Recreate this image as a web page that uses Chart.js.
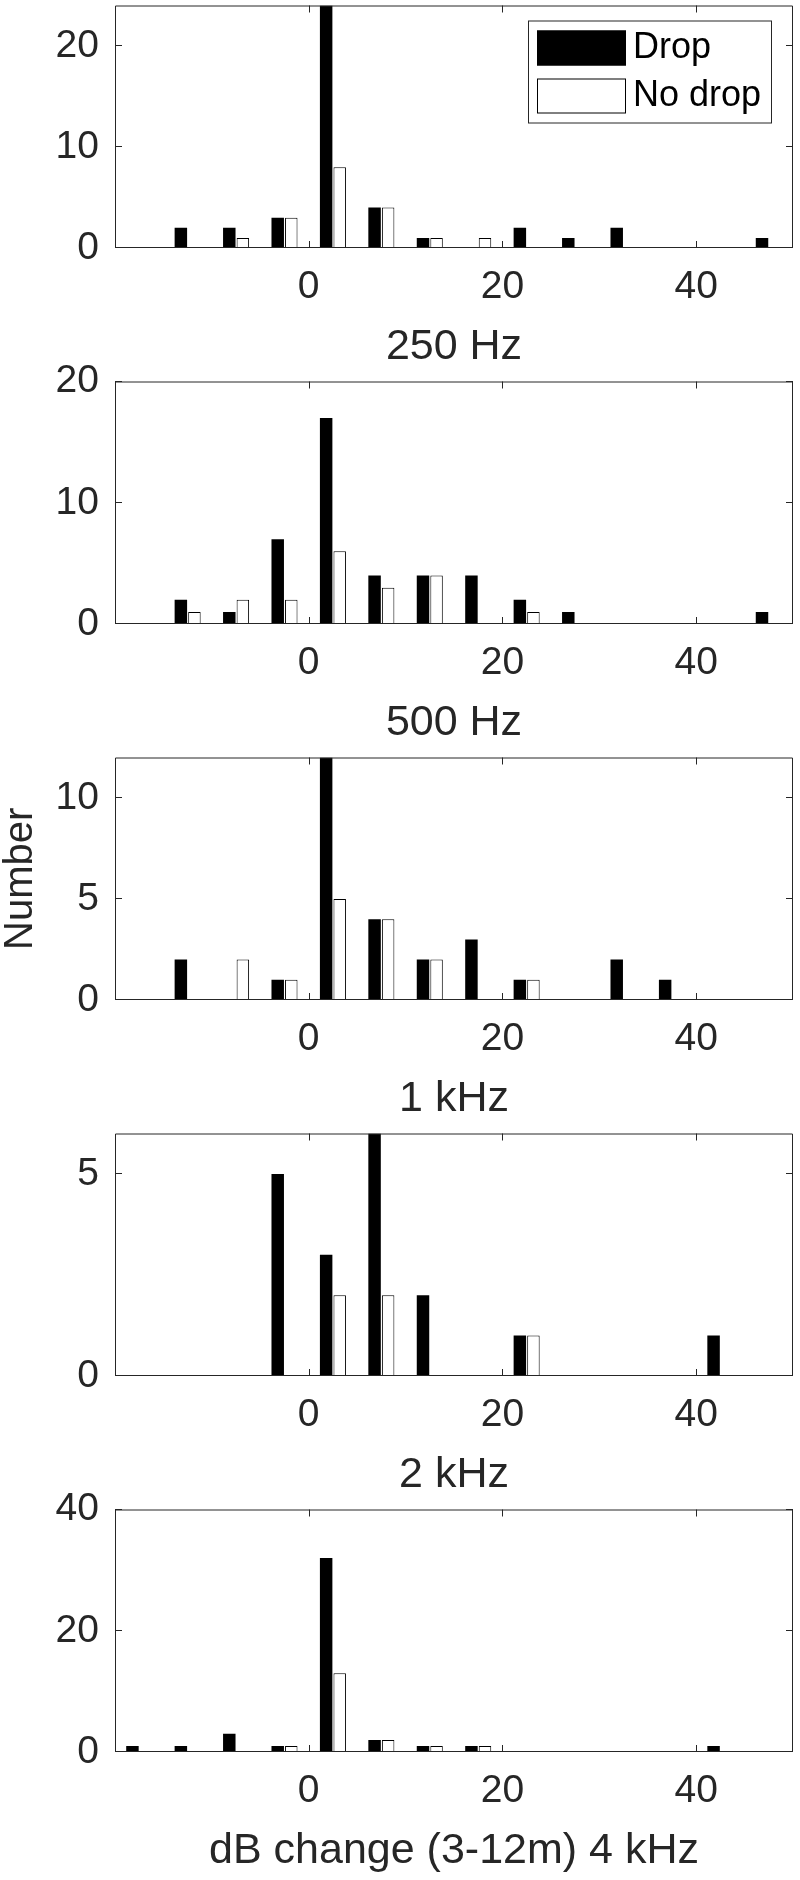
<!DOCTYPE html>
<html lang="en">
<head>
<meta charset="UTF-8">
<title>dB change (3-12m) histograms</title>
<script src="https://cdn.jsdelivr.net/npm/chart.js"></script>
<style>
  html, body { margin: 0; padding: 0; background: #fff; overflow: hidden; }
  #wrap { position: relative; width: 800px; height: 1880px; }
  #wrap canvas { position: absolute; left: 0; }
</style>
</head>
<body>
<div id="wrap"></div>
<script>
// centres of the 5 dB bins
const binCenters = [-17.5, -12.5, -7.5, -2.5, 2.5, 7.5, 12.5, 17.5, 22.5, 27.5, 32.5, 37.5, 42.5, 47.5];
const xTicks = [0, 20, 40];

const drop250   = [0, 2, 2, 3, 24, 4, 1, 0, 2, 1, 2, 0, 0, 1];
const noDrop250 = [0, 0, 1, 3, 8, 4, 1, 1, 0, 0, 0, 0, 0, 0];
const drop500   = [0, 2, 1, 7, 17, 4, 4, 4, 2, 1, 0, 0, 0, 1];
const noDrop500 = [0, 1, 2, 2, 6, 3, 4, 0, 1, 0, 0, 0, 0, 0];
const drop1k    = [0, 2, 0, 1, 12, 4, 2, 3, 1, 0, 2, 1, 0, 0];
const noDrop1k  = [0, 0, 2, 1, 5, 4, 2, 0, 1, 0, 0, 0, 0, 0];
const drop2k    = [0, 0, 0, 5, 3, 6, 2, 0, 1, 0, 0, 0, 1, 0];
const noDrop2k  = [0, 0, 0, 0, 2, 2, 0, 0, 1, 0, 0, 0, 0, 0];
const drop4k    = [1, 1, 3, 1, 32, 2, 1, 1, 0, 0, 0, 0, 1, 0];
const noDrop4k  = [0, 0, 0, 1, 13, 2, 1, 1, 0, 0, 0, 0, 0, 0];

const seriesNames = ['Drop', 'No drop'];
const panelLabels = ['250 Hz', '500 Hz', '1 kHz', '2 kHz', 'dB change (3-12m) 4 kHz'];
const yMax = [24, 20, 12, 6, 40];
const yTicks = [[0, 10, 20], [0, 10, 20], [0, 5, 10], [0, 5], [0, 20, 40]];

const dropSets = [drop250, drop500, drop1k, drop2k, drop4k];
const noDropSets = [noDrop250, noDrop500, noDrop1k, noDrop2k, noDrop4k];

const ink = '#262626';
Chart.defaults.font.family = "'Liberation Sans', Arial, Helvetica, sans-serif";
Chart.defaults.color = ink;

// matlab style box with inward ticks
const axesFrame = {
    id: 'axesFrame',
    afterDraw(chart) {
        const { ctx, chartArea: a, scales } = chart;
        const tl = 7;
        ctx.save();
        ctx.strokeStyle = ink;
        ctx.lineWidth = 1;
        ctx.beginPath();
        ctx.rect(a.left + 0.5, a.top + 0.5, a.right - a.left - 1, a.bottom - a.top - 1);
        scales.x.ticks.forEach(t => {
            const px = Math.round(scales.x.getPixelForValue(t.value)) + 0.5;
            ctx.moveTo(px, a.bottom); ctx.lineTo(px, a.bottom - tl);
            ctx.moveTo(px, a.top); ctx.lineTo(px, a.top + tl);
        });
        scales.y.ticks.forEach(t => {
            const py = Math.round(scales.y.getPixelForValue(t.value)) - 0.5;
            ctx.moveTo(a.left, py); ctx.lineTo(a.left + tl, py);
            ctx.moveTo(a.right, py); ctx.lineTo(a.right - tl, py);
        });
        ctx.stroke();
        ctx.restore();
    }
};

// boxed legend inside the top right corner
const boxLegend = {
    id: 'boxLegend',
    afterDraw(chart, args, opts) {
        if (!opts.show) return;
        const { ctx, chartArea: a } = chart;
        const w = 244, h = 103;
        const left = a.right - 21 - w, top = a.top + 15;
        ctx.save();
        ctx.fillStyle = '#fff';
        ctx.fillRect(left, top, w, h);
        ctx.strokeStyle = ink;
        ctx.lineWidth = 1;
        ctx.strokeRect(left + 0.5, top + 0.5, w - 1, h - 1);
        ctx.font = "36px 'Liberation Sans', Arial, sans-serif";
        ctx.textBaseline = 'middle';
        chart.data.datasets.forEach((ds, k) => {
            const sy = top + 10 + k * 48;
            ctx.fillStyle = ds.backgroundColor;
            ctx.fillRect(left + 9, sy, 89, 35);
            ctx.strokeStyle = ds.borderColor;
            ctx.strokeRect(left + 9.5, sy + 0.5, 88, 34);
            ctx.fillStyle = '#000';
            ctx.fillText(ds.label, left + 105, sy + 18);
        });
        ctx.restore();
    }
};

const wrap = document.getElementById('wrap');
const panelStep = 376, overlap = 30;

panelLabels.forEach((label, i) => {
    const canvas = document.createElement('canvas');
    canvas.width = 800;
    canvas.height = panelStep + overlap;
    canvas.style.top = (i * panelStep - overlap) + 'px';
    wrap.appendChild(canvas);

    new Chart(canvas, {
        type: 'bar',
        data: {
            datasets: [
                {
                    label: seriesNames[0],
                    data: binCenters.map((x, k) => ({ x: x, y: dropSets[i][k] })),
                    backgroundColor: '#000',
                    borderColor: '#000',
                    borderWidth: 0,
                    categoryPercentage: 0.56,
                    barPercentage: 0.92
                },
                {
                    label: seriesNames[1],
                    data: binCenters.map((x, k) => ({ x: x, y: noDropSets[i][k] })),
                    backgroundColor: '#fff',
                    borderColor: '#000',
                    borderWidth: 1,
                    categoryPercentage: 0.56,
                    barPercentage: 0.92
                }
            ]
        },
        options: {
            responsive: false,
            animation: false,
            layout: { padding: { top: overlap + 3, right: 7, left: 0, bottom: 0 } },
            plugins: {
                legend: { display: false },
                tooltip: { enabled: false },
                boxLegend: { show: i === 0 }
            },
            scales: {
                x: {
                    type: 'linear',
                    min: -20,
                    max: 50,
                    offset: false,
                    afterBuildTicks: s => { s.ticks = xTicks.map(v => ({ value: v })); },
                    afterFit: s => { s.height = 128; },
                    grid: { display: false, drawTicks: false },
                    border: { display: false },
                    ticks: { padding: 20, maxRotation: 0, autoSkip: false, font: { size: 39, lineHeight: 1 } },
                    title: {
                        display: true,
                        text: label,
                        font: { size: 43, lineHeight: 1 },
                        padding: { top: 0, bottom: 7 }
                    }
                },
                y: {
                    min: 0,
                    max: yMax[i],
                    afterBuildTicks: s => { s.ticks = yTicks[i].map(v => ({ value: v })); },
                    afterFit: s => { s.width = 115; },
                    grid: { display: false, drawTicks: false },
                    border: { display: false },
                    ticks: { padding: 16, font: { size: 39, lineHeight: 1 } },
                    title: {
                        display: i === 2,
                        text: 'Number',
                        font: { size: 40, lineHeight: 1 },
                        padding: { top: 1, bottom: 0 }
                    }
                }
            }
        },
        plugins: [axesFrame, boxLegend]
    });
});
</script>
</body>
</html>
